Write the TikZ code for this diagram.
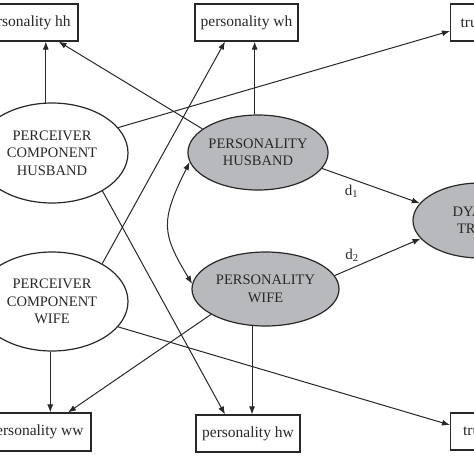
\documentclass[tikz,border=0pt]{standalone}
\usepackage{fontspec}
\setmainfont{Liberation Serif}
\usetikzlibrary{shapes.geometric,arrows.meta,calc}
\definecolor{ink}{RGB}{40,40,40}
\definecolor{latent}{RGB}{184,185,188}
\tikzset{
  obsbox/.style={draw=ink, line width=1.1pt, rectangle, inner sep=0pt, minimum height=37pt, text=ink, font=\fontsize{15.5}{18}\selectfont},
  ell/.style={draw=ink, line width=1.2pt, ellipse, inner sep=0pt, align=center, text=ink, font=\fontsize{14.5}{17.5}\selectfont},
  latentell/.style={ell, fill=latent},
  arr/.style={draw=ink, line width=1pt, -{Latex[length=8pt,width=6pt]}},
  darr/.style={draw=ink, line width=1pt, {Latex[length=8pt,width=6pt]}-{Latex[length=8pt,width=6pt]}},
  dlabel/.style={text=ink, font=\fontsize{15}{18}\selectfont}
}
\begin{document}
\begin{tikzpicture}[x=1pt,y=-1pt]
\useasboundingbox (0,0) rectangle (474,474);
\fill[white] (0,0) rectangle (474,474);
\clip (0,0) rectangle (474,474);

% observed boxes
\node[obsbox, minimum width=103pt] (hh) at (26.5,22.5) {personality hh};
\node[obsbox, minimum width=103pt] (wh) at (246.5,22.5) {personality wh};
\node[obsbox, minimum width=67pt, anchor=west] (trh) at (450,22.5) {trust hh};
\node[obsbox, minimum width=110pt, minimum height=38pt] (ww) at (36,432) {personality ww};
\node[obsbox, minimum width=104pt] (hw) at (248,433.5) {personality hw};
\node[obsbox, minimum width=79pt, anchor=west] (trw) at (450,431.5) {trust ww};

% latent ellipses
\node[ell, minimum width=152pt, minimum height=100pt] (PCH) at (52,153) {PERCEIVER\\COMPONENT\\HUSBAND};
\node[ell, minimum width=152pt, minimum height=99pt] (PCW) at (52,301.5) {PERCEIVER\\COMPONENT\\WIFE};
\node[latentell, minimum width=138pt, minimum height=75pt] (PH) at (258,152.5) {PERSONALITY\\HUSBAND};
\node[latentell, minimum width=147pt, minimum height=74pt] (PW) at (265.5,289) {PERSONALITY\\WIFE};
\node[latentell, minimum width=134pt, minimum height=75pt] (DT) at (480,220.5) {DYADIC\\TRUST};

% connectors
\draw[arr] (PCH.97) -- (PCH.97 |- hh.south);
\draw[arr] (PH.157) -- ($(hh.south east)+(-20,0)$);
\draw[arr] (PCH.21) -- ($(trh.west)+(0,8.5)$);
\draw[arr] (PCW.37) -- ($(wh.south)+(-21.5,0)$);
\draw[arr] (PH.95) -- (PH.95 |- wh.south);
\draw[arr] (PCH.-37) -- ($(hw.north)+(-23,0)$);
\draw[arr] (PCW.268) -- (PCW.268 |- ww.north);
\draw[arr] (PW.205) -- ($(ww.north)+(32,0)$);
\draw[arr] (PCW.-21) -- ($(trw.west)+(0,-6.5)$);
\draw[arr] (PW.250) -- (PW.250 |- hw.north);
\draw[arr] (PH.-14) -- node[dlabel, pos=0.3, below=2pt] {d\textsubscript{1}} (DT.164);
\draw[arr] (PW.11) -- node[dlabel, pos=0.2, above=3pt] {d\textsubscript{2}} (DT.197);
\draw[darr] (PH.188) .. controls +(-30,60) and +(-30,-50) .. (PW.176);
\end{tikzpicture}
\end{document}
